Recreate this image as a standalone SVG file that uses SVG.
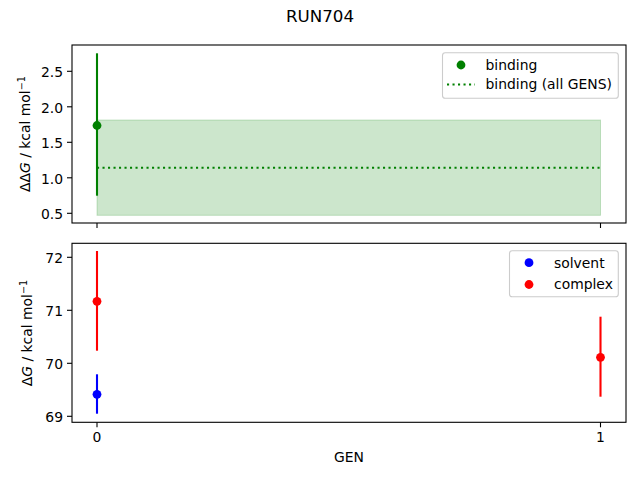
<svg xmlns="http://www.w3.org/2000/svg" width="640" height="480" viewBox="0 0 640 480">
<style>
text{font-family:"DejaVu Sans",sans-serif;fill:#000;font-size:13.9px}
.frame{fill:none;stroke:#000;stroke-width:1.1}
.tick{stroke:#000;stroke-width:1.1}
.yl{text-anchor:end;dominant-baseline:central}
.xl{text-anchor:middle}
.leg{fill:#fff;fill-opacity:0.8;stroke:#cccccc;stroke-width:1.1}
.eb{stroke-width:2.1}
</style>
<rect width="640" height="480" fill="#fff"/>
<text x="320" y="22" text-anchor="middle" style="font-size:16.7px">RUN704</text>

<g id="top-axes">
  <rect x="97" y="120" width="503.5" height="95.3" fill="#008000" fill-opacity="0.2" stroke="#008000" stroke-opacity="0.2"/>
  <line x1="97" y1="167.7" x2="600.5" y2="167.7" stroke="#008000" stroke-width="2.1" stroke-dasharray="2.1,3.4"/>
  <line class="eb" x1="97" y1="53.3" x2="97" y2="195.7" stroke="#008000"/>
  <circle cx="97" cy="125.5" r="4.4" fill="#008000"/>
  <rect class="frame" x="72" y="45" width="554" height="178"/>
  <g class="tick">
    <line x1="67" y1="71.3" x2="72" y2="71.3"/>
    <line x1="67" y1="106.8" x2="72" y2="106.8"/>
    <line x1="67" y1="142.3" x2="72" y2="142.3"/>
    <line x1="67" y1="177.8" x2="72" y2="177.8"/>
    <line x1="67" y1="213.3" x2="72" y2="213.3"/>
    <line x1="97" y1="223" x2="97" y2="228"/>
    <line x1="600.5" y1="223" x2="600.5" y2="228"/>
  </g>
  <text class="yl" x="63" y="72.3">2.5</text>
  <text class="yl" x="63" y="107.8">2.0</text>
  <text class="yl" x="63" y="143.3">1.5</text>
  <text class="yl" x="63" y="178.8">1.0</text>
  <text class="yl" x="63" y="214.3">0.5</text>
  <text transform="translate(30,134) rotate(-90)" text-anchor="middle">ΔΔ<tspan font-style="italic">G</tspan> / kcal mol<tspan baseline-shift="super" style="font-size:9.7px">−1</tspan></text>
</g>

<g id="top-legend">
  <rect class="leg" x="442.5" y="52.7" width="175.8" height="45.6" rx="2.8"/>
  <circle cx="461" cy="65" r="4.4" fill="#008000"/>
  <text x="485.5" y="69.8">binding</text>
  <line x1="447" y1="84.5" x2="475" y2="84.5" stroke="#008000" stroke-width="2.1" stroke-dasharray="2.1,3.4"/>
  <text x="485.5" y="89.3">binding (all GENS)</text>
</g>

<g id="bottom-axes">
  <line class="eb" x1="97" y1="251" x2="97" y2="350.7" stroke="#ff0000"/>
  <circle cx="97" cy="301.3" r="4.4" fill="#ff0000"/>
  <line class="eb" x1="97" y1="374.3" x2="97" y2="413.7" stroke="#0000ff"/>
  <circle cx="97" cy="394.3" r="4.4" fill="#0000ff"/>
  <line class="eb" x1="600.5" y1="316.7" x2="600.5" y2="396.7" stroke="#ff0000"/>
  <circle cx="600.5" cy="357.3" r="4.4" fill="#ff0000"/>
  <rect class="frame" x="72" y="243.3" width="554" height="179"/>
  <g class="tick">
    <line x1="67" y1="257.3" x2="72" y2="257.3"/>
    <line x1="67" y1="310.3" x2="72" y2="310.3"/>
    <line x1="67" y1="363.3" x2="72" y2="363.3"/>
    <line x1="67" y1="416.3" x2="72" y2="416.3"/>
    <line x1="97" y1="422.3" x2="97" y2="427.3"/>
    <line x1="600.5" y1="422.3" x2="600.5" y2="427.3"/>
  </g>
  <text class="yl" x="63" y="258.3">72</text>
  <text class="yl" x="63" y="311.3">71</text>
  <text class="yl" x="63" y="364.3">70</text>
  <text class="yl" x="63" y="417.3">69</text>
  <text class="xl" x="97" y="442">0</text>
  <text class="xl" x="600.5" y="442">1</text>
  <text class="xl" x="349" y="462">GEN</text>
  <text transform="translate(32,333) rotate(-90)" text-anchor="middle">Δ<tspan font-style="italic">G</tspan> / kcal mol<tspan baseline-shift="super" style="font-size:9.7px">−1</tspan></text>
</g>

<g id="bottom-legend">
  <rect class="leg" x="509.5" y="250.7" width="108.8" height="46" rx="2.8"/>
  <circle cx="529" cy="262.7" r="4.4" fill="#0000ff"/>
  <text x="554" y="267.5">solvent</text>
  <circle cx="529" cy="284.5" r="4.4" fill="#ff0000"/>
  <text x="554" y="289.3">complex</text>
</g>
</svg>
